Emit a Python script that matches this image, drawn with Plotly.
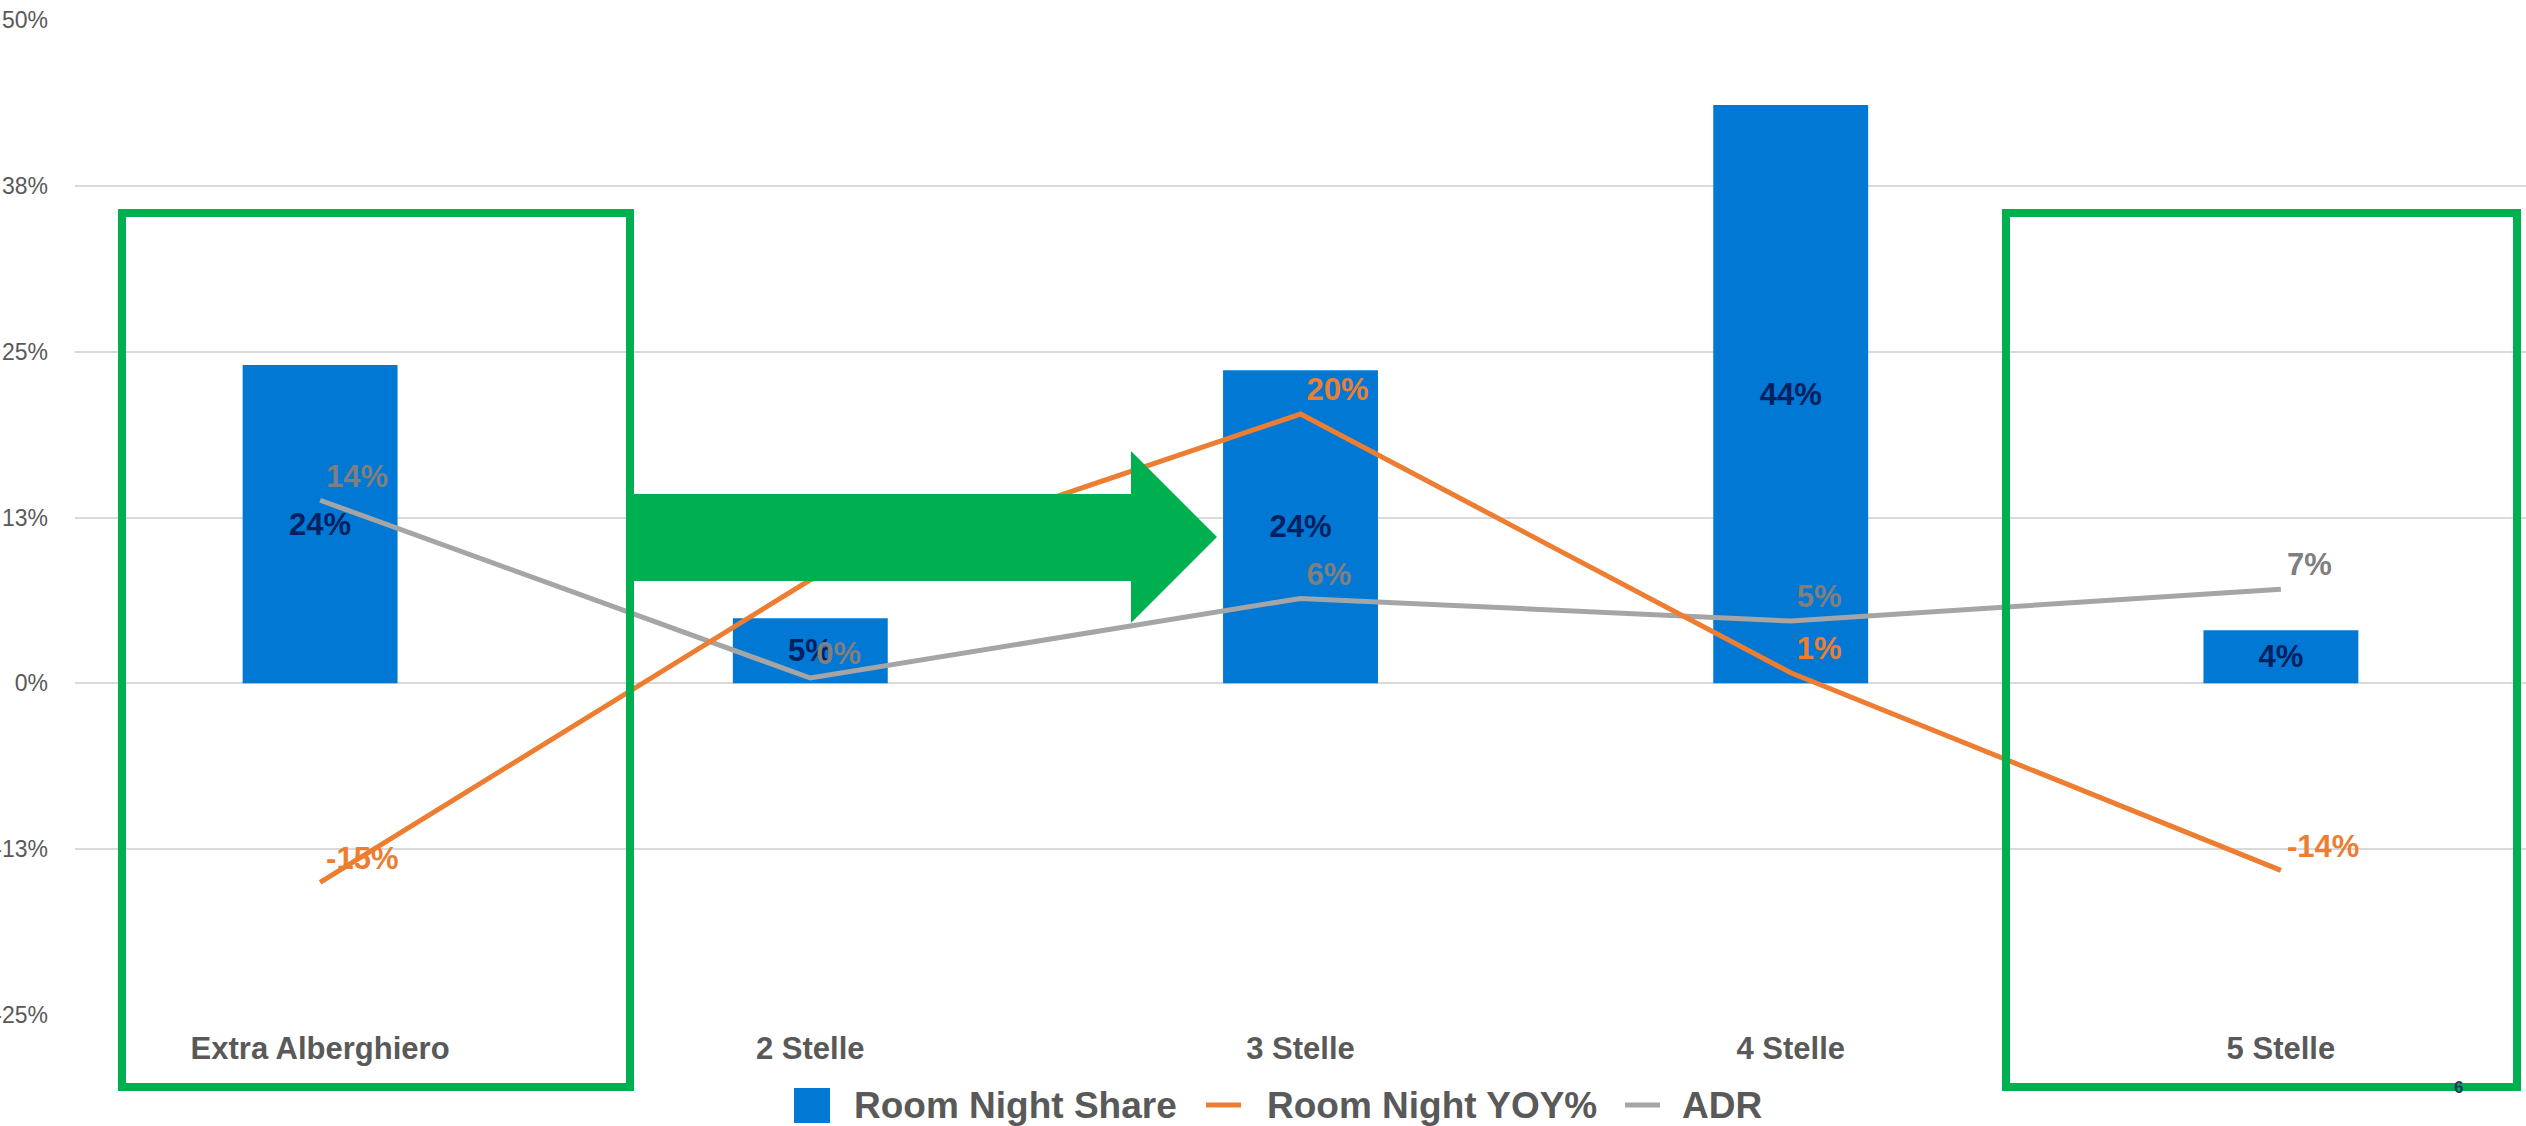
import plotly.graph_objects as go

# ---------------- data ----------------
categories = ["Extra Alberghiero", "2 Stelle", "3 Stelle", "4 Stelle", "5 Stelle"]
room_night_share = [24.0, 4.9, 23.6, 43.6, 4.0]      # %
room_night_yoy = [-15.0, 7.8, 20.3, 0.8, -14.1]       # %
adr = [13.8, 0.4, 6.4, 4.7, 7.1]                      # %
y_tickvals = [-25, -12.5, 0, 12.5, 25, 37.5, 50]
y_ticktext = ["-25%", "-13%", "0%", "13%", "25%", "38%", "50%"]
legend_names = ["Room Night Share", "Room Night YOY%", "ADR"]

# ---------------- style ----------------
W, H = 2526, 1126
ML, MR, MT, MB = 75, 0, 20, 111
FONT = "Liberation Sans, Arial, sans-serif"
BLUE = "#0078D4"
ORANGE = "#ED7D31"
GREY = "#A5A5A5"
GREY_TXT = "#7F7F7F"
NAVY = "#002060"
AXIS_TXT = "#595959"
GREEN = "#00B050"

PW = W - ML - MR
PH = H - MT - MB


def px(x):
    return (x - ML) / PW


def py(y):
    return (H - MB - y) / PH


fig = go.Figure()

fig.add_trace(go.Bar(
    x=categories, y=room_night_share, name=legend_names[0],
    marker=dict(color=BLUE, line=dict(width=0)),
    texttemplate="%{y:.0f}%", textposition="inside", insidetextanchor="middle",
    textfont=dict(family=FONT, size=31, color=NAVY, weight="bold"),
    constraintext="none", showlegend=False,
))

fig.add_trace(go.Scatter(
    x=categories, y=adr, name=legend_names[2], mode="lines+markers+text",
    line=dict(color=GREY, width=5),
    marker=dict(size=8, color=GREY, opacity=0),
    texttemplate="%{y:.0f}%", textposition="top right",
    textfont=dict(family=FONT, size=31, color=GREY_TXT, weight="bold"),
    showlegend=False,
))

fig.add_trace(go.Scatter(
    x=categories, y=room_night_yoy, name=legend_names[1], mode="lines+markers+text",
    line=dict(color=ORANGE, width=5),
    marker=dict(size=8, color=ORANGE, opacity=0),
    texttemplate="%{y:.0f}%", textposition="top right",
    textfont=dict(family=FONT, size=31, color=ORANGE, weight="bold"),
    showlegend=False,
))

shapes = []
# green highlight rectangles
shapes.append(dict(type="rect", xref="paper", yref="paper",
                   x0=px(122), x1=px(630), y0=py(1087), y1=py(213),
                   line=dict(color=GREEN, width=8), fillcolor="rgba(0,0,0,0)", layer="above"))
shapes.append(dict(type="rect", xref="paper", yref="paper",
                   x0=px(2006), x1=px(2517), y0=py(1087), y1=py(213),
                   line=dict(color=GREEN, width=8), fillcolor="rgba(0,0,0,0)", layer="above"))
# green arrow
pts = [(630, 494), (1131, 494), (1131, 451), (1217, 537), (1131, 623), (1131, 581), (630, 581)]
path = "M " + " L ".join(f"{px(a):.5f},{py(b):.5f}" for a, b in pts) + " Z"
shapes.append(dict(type="path", xref="paper", yref="paper", path=path,
                   fillcolor=GREEN, line=dict(width=0), layer="above"))

# manual legend
LEG_Y = 1105
shapes.append(dict(type="rect", xref="paper", yref="paper",
                   x0=px(794), x1=px(830), y0=py(1123), y1=py(1088),
                   fillcolor=BLUE, line=dict(width=0)))
shapes.append(dict(type="line", xref="paper", yref="paper",
                   x0=px(1206), x1=px(1241), y0=py(LEG_Y), y1=py(LEG_Y),
                   line=dict(color=ORANGE, width=5)))
shapes.append(dict(type="line", xref="paper", yref="paper",
                   x0=px(1625), x1=px(1660), y0=py(LEG_Y), y1=py(LEG_Y),
                   line=dict(color=GREY, width=5)))

annotations = []
for name, x0 in zip(legend_names, [852, 1265, 1680]):
    annotations.append(dict(text=name, xref="paper", yref="paper", x=px(x0), y=py(LEG_Y),
                            xanchor="left", yanchor="middle", showarrow=False,
                            font=dict(family=FONT, size=37, color=AXIS_TXT, weight="bold")))
# slide number
annotations.append(dict(text="6", xref="paper", yref="paper", x=px(2458), y=py(1087),
                        xanchor="center", yanchor="middle", showarrow=False,
                        font=dict(family=FONT, size=17, color="#1F3864", weight="bold")))

fig.update_layout(
    width=W, height=H,
    margin=dict(l=ML, r=MR, t=MT, b=MB, pad=0),
    paper_bgcolor="white", plot_bgcolor="white",
    template="none",
    bargap=0.684,
    font=dict(family=FONT, color=AXIS_TXT),
    shapes=shapes, annotations=annotations,
    showlegend=False,
    xaxis=dict(type="category", range=[-0.5, 4.5], showgrid=False, zeroline=False,
               showline=False, ticks="", automargin=False, ticklabelstandoff=12,
               tickfont=dict(family=FONT, size=31, color=AXIS_TXT, weight="bold")),
    yaxis=dict(range=[-25, 50], tickvals=y_tickvals, ticktext=y_ticktext,
               showgrid=True, gridcolor="#D9D9D9", gridwidth=2,
               zeroline=False, showline=False, ticks="", automargin=False,
               ticklabelstandoff=26,
               tickfont=dict(family=FONT, size=23, color=AXIS_TXT)),
)

fig.write_html("out.html")
